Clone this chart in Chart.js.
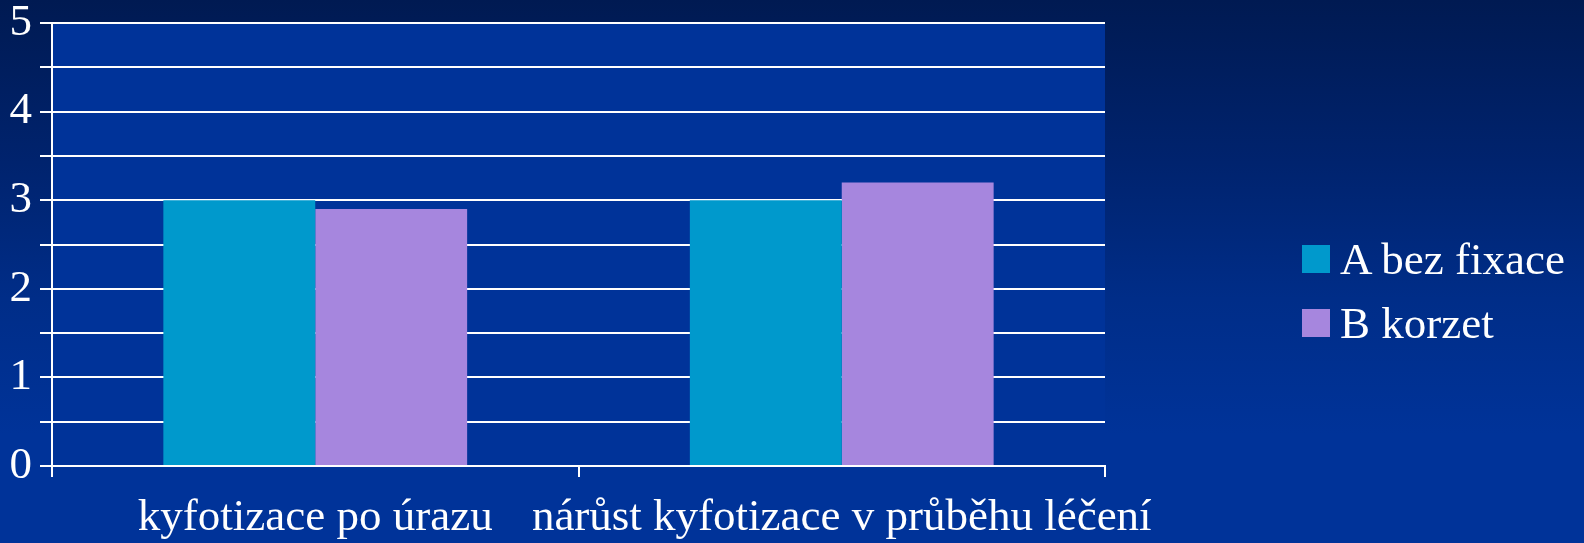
<!DOCTYPE html>
<html>
<head>
<meta charset="utf-8">
<script src="https://cdn.jsdelivr.net/npm/chart.js@4.4.0/dist/chart.umd.min.js"></script>
<style>
  body { margin: 0; }
  #wrap {
    position: relative; width: 1584px; height: 543px; overflow: hidden;
    background: linear-gradient(to bottom, #001a52 0%, #00236e 30%, #002d88 55%, #003399 80%, #003399 100%);
  }
  #legend { position: absolute; left: 1302px; top: 227px; font-family: 'Liberation Serif', serif; font-size: 45px; color: #fff; }
  #legend div { display: flex; align-items: center; height: 64px; }
  #legend span.box { width: 28px; height: 28px; margin-right: 10px; display: inline-block; }
</style>
</head>
<body>
<div id="wrap">
  <canvas id="mycanvas"></canvas>
  <div id="legend"></div>
</div>
<script>
var categories = ['kyfotizace po úrazu', 'nárůst kyfotizace v průběhu léčení'];
var seriesNames = ['A bez fixace', 'B korzet'];
var seriesA = [3, 3];
var seriesB = [2.9, 3.2];
var colors = ['#0099cc', '#a686de'];

var plotBg = {
    id: 'plotBg',
    beforeDraw: function(chart) {
        var a = chart.chartArea, ctx = chart.ctx;
        ctx.save();
        ctx.fillStyle = '#003399';
        ctx.fillRect(a.left, a.top, a.right - a.left, a.bottom - a.top);
        ctx.restore();
    }
};

var chartdata = {
    labels: categories,
    datasets: [
        { label: seriesNames[0], data: seriesA, backgroundColor: colors[0] },
        { label: seriesNames[1], data: seriesB, backgroundColor: colors[1] }
    ]
};

var font = { family: "'Liberation Serif', serif", size: 45, lineHeight: 1 };

var chart = new Chart(document.getElementById('mycanvas'), {
    type: 'bar',
    data: chartdata,
    plugins: [plotBg],
    options: {
        responsive: true,
        maintainAspectRatio: false,
        animation: false,
        categoryPercentage: 0.577,
        barPercentage: 1,
        layout: { padding: { top: 23, right: 479, left: 0, bottom: 0 } },
        plugins: { legend: { display: false }, tooltip: { enabled: false } },
        scales: {
            x: {
                afterFit: function(s) { s.height = 77; },
                grid: { drawOnChartArea: false, color: '#fff', lineWidth: 2, tickLength: 11, offset: true },
                border: { color: '#fff', width: 2 },
                ticks: { color: '#fff', font: font, padding: 19, maxRotation: 0, autoSkip: false }
            },
            y: {
                min: 0, max: 5,
                afterFit: function(s) { s.width = 52; s.paddingTop = 0; s.paddingBottom = 0; },
                grid: { color: '#fff', lineWidth: 2, tickLength: 12 },
                border: { color: '#fff', width: 2 },
                ticks: {
                    stepSize: 0.5, autoSkip: false, color: '#fff', font: font, padding: 8,
                    callback: function(v) { return Number.isInteger(v) ? v : ''; }
                }
            }
        }
    }
});

var legend = document.getElementById('legend');
chart.data.datasets.forEach(function(ds) {
    var row = document.createElement('div');
    var box = document.createElement('span');
    box.className = 'box';
    box.style.background = ds.backgroundColor;
    row.appendChild(box);
    row.appendChild(document.createTextNode(ds.label));
    legend.appendChild(row);
});
</script>
</body>
</html>
